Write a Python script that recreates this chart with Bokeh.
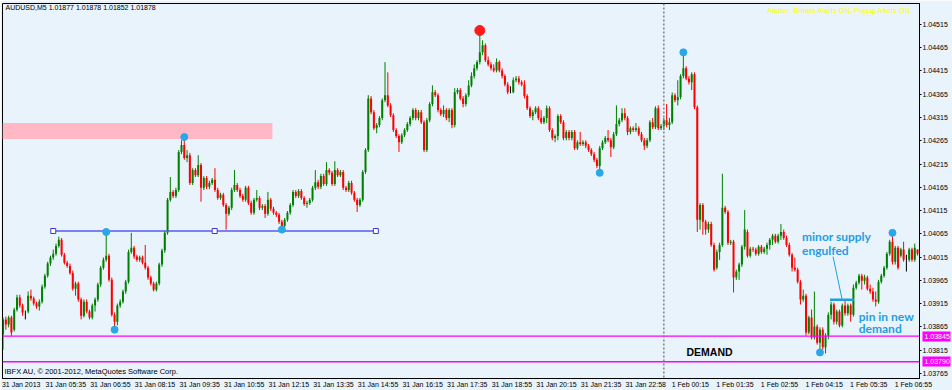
from bokeh.plotting import figure
from bokeh.models import (ColumnDataSource, Range1d, FixedTicker, PrintfTickFormatter,
                          Label, Span, LinearAxis)
from bokeh.embed import file_html
from bokeh.resources import INLINE

# ---------------- data ----------------
header_text = "AUDUSD,M5  1.01877 1.01878 1.01852 1.01878"
alert_text = "Alerter:  Emails Alerts ON,  Popup Alerts ON"
footer_text = "IBFX AU, \u00a9 2001-2012, MetaQuotes Software Corp."

open_ = [
1.03849,1.03881,1.03870,1.03885,1.03859,1.03902,1.03928,1.03911,1.03896,1.03898,
1.03932,1.03926,1.03915,1.03909,1.03919,1.03951,1.03975,1.04001,1.04014,1.04022,
1.04039,1.04052,1.04020,1.04003,1.03996,1.03981,1.03947,1.03958,1.03924,1.03889,
1.03919,1.03898,1.03885,1.03911,1.03924,1.03956,1.03992,1.04009,1.04018,1.03966,
1.03891,1.03876,1.03911,1.03919,1.03941,1.03962,1.04026,1.04035,1.04016,1.04009,
1.04014,1.04003,1.03992,1.03971,1.03958,1.03945,1.03958,1.03999,1.04029,1.04067,
1.04138,1.04155,1.04146,1.04159,1.04241,1.04256,1.04228,1.04234,1.04174,1.04202,
1.04191,1.04213,1.04164,1.04185,1.04166,1.04174,1.04181,1.04159,1.04142,1.04149,
1.04127,1.04108,1.04121,1.04159,1.04170,1.04159,1.04146,1.04138,1.04164,1.04131,
1.04110,1.04138,1.04142,1.04121,1.04125,1.04108,1.04138,1.04119,1.04110,1.04106,
1.04091,1.04082,1.04095,1.04110,1.04127,1.04155,1.04146,1.04157,1.04142,1.04129,
1.04131,1.04138,1.04164,1.04176,1.04166,1.04189,1.04172,1.04202,1.04196,1.04172,
1.04202,1.04191,1.04198,1.04164,1.04159,1.04174,1.04153,1.04138,1.04127,1.04138,
1.04198,1.04245,1.04356,1.04326,1.04292,1.04299,1.04314,1.04352,1.04363,1.04341,
1.04320,1.04288,1.04275,1.04262,1.04277,1.04288,1.04301,1.04314,1.04331,1.04314,
1.04326,1.04305,1.04245,1.04309,1.04344,1.04369,1.04363,1.04331,1.04322,1.04331,
1.04314,1.04331,1.04299,1.04369,1.04374,1.04356,1.04344,1.04363,1.04384,1.04404,
1.04421,1.04434,1.04455,1.04470,1.04438,1.04429,1.04421,1.04416,1.04434,1.04416,
1.04404,1.04386,1.04369,1.04369,1.04395,1.04399,1.04391,1.04386,1.04361,1.04335,
1.04318,1.04326,1.04335,1.04314,1.04305,1.04314,1.04335,1.04288,1.04271,1.04275,
1.04318,1.04305,1.04271,1.04284,1.04271,1.04284,1.04249,1.04262,1.04258,1.04262,
1.04254,1.04245,1.04236,1.04224,1.04211,1.04249,1.04262,1.04271,1.04266,1.04251,
1.04279,1.04301,1.04309,1.04324,1.04314,1.04284,1.04292,1.04288,1.04292,1.04279,
1.04266,1.04254,1.04266,1.04305,1.04294,1.04335,1.04292,1.04296,1.04309,1.04299,
1.04305,1.04363,1.04352,1.04359,1.04404,1.04421,1.04399,1.04391,1.04408,1.04337,
1.04095,1.04127,1.04091,1.04074,1.04086,1.04041,1.03992,1.04026,1.04041,1.04121,
1.04112,1.04046,1.04048,1.03971,1.03984,1.03999,1.04037,1.04069,1.04018,1.04033,
1.04031,1.04022,1.04037,1.04026,1.04033,1.04041,1.04052,1.04061,1.04048,1.04061,
1.04069,1.04056,1.04041,1.04020,1.03992,1.03988,1.03962,1.03924,1.03932,1.03853,
1.03885,1.03842,1.03866,1.03831,1.03859,1.03821,1.03846,1.03891,1.03913,1.03876,
1.03898,1.03868,1.03911,1.03894,1.03911,1.03891,1.03949,1.03960,1.03975,1.03964,
1.03971,1.03947,1.03941,1.03924,1.03919,1.03962,1.03975,1.03992,1.04022,1.04048,
1.04005,1.04035,1.04018,1.04031,1.04009,1.04009,1.04031,1.04009,1.04031,
]

high = [
1.03885,1.03887,1.03889,1.03889,1.03906,1.03934,1.03934,1.03915,1.03900,1.03941,
1.03945,1.03930,1.03919,1.03924,1.03956,1.03979,1.04005,1.04018,1.04031,1.04044,
1.04059,1.04056,1.04024,1.04007,1.04001,1.03986,1.03962,1.03962,1.03928,1.03924,
1.03924,1.03902,1.03915,1.03928,1.03960,1.03996,1.04014,1.04069,1.04022,1.03971,
1.03896,1.03915,1.03924,1.03945,1.03966,1.04031,1.04067,1.04039,1.04020,1.04018,
1.04018,1.04041,1.03996,1.03975,1.03962,1.03962,1.04003,1.04033,1.04071,1.04142,
1.04187,1.04159,1.04164,1.04245,1.04266,1.04273,1.04245,1.04239,1.04206,1.04206,
1.04234,1.04217,1.04189,1.04189,1.04179,1.04185,1.04206,1.04164,1.04153,1.04153,
1.04131,1.04125,1.04164,1.04202,1.04174,1.04164,1.04151,1.04168,1.04168,1.04136,
1.04142,1.04159,1.04146,1.04129,1.04129,1.04155,1.04142,1.04123,1.04114,1.04110,
1.04095,1.04099,1.04114,1.04131,1.04159,1.04159,1.04161,1.04161,1.04146,1.04136,
1.04142,1.04168,1.04202,1.04181,1.04194,1.04194,1.04219,1.04206,1.04200,1.04221,
1.04206,1.04202,1.04202,1.04168,1.04179,1.04179,1.04157,1.04142,1.04142,1.04202,
1.04249,1.04363,1.04361,1.04331,1.04303,1.04318,1.04356,1.04434,1.04412,1.04346,
1.04324,1.04292,1.04279,1.04281,1.04292,1.04305,1.04318,1.04335,1.04335,1.04331,
1.04331,1.04309,1.04314,1.04348,1.04384,1.04374,1.04367,1.04335,1.04341,1.04335,
1.04335,1.04335,1.04378,1.04378,1.04378,1.04361,1.04367,1.04395,1.04412,1.04429,
1.04438,1.04502,1.04481,1.04474,1.04446,1.04434,1.04429,1.04442,1.04438,1.04421,
1.04408,1.04391,1.04382,1.04401,1.04404,1.04404,1.04395,1.04395,1.04365,1.04339,
1.04331,1.04339,1.04339,1.04331,1.04318,1.04341,1.04339,1.04292,1.04279,1.04322,
1.04322,1.04309,1.04288,1.04288,1.04288,1.04288,1.04266,1.04284,1.04266,1.04266,
1.04258,1.04249,1.04241,1.04228,1.04254,1.04266,1.04275,1.04288,1.04271,1.04284,
1.04341,1.04314,1.04335,1.04335,1.04318,1.04296,1.04296,1.04303,1.04296,1.04284,
1.04271,1.04271,1.04309,1.04314,1.04339,1.04341,1.04301,1.04314,1.04344,1.04314,
1.04369,1.04367,1.04395,1.04408,1.04455,1.04425,1.04404,1.04412,1.04412,1.04341,
1.04131,1.04131,1.04095,1.04091,1.04091,1.04046,1.04031,1.04046,1.04194,1.04125,
1.04116,1.04052,1.04052,1.03988,1.04003,1.04041,1.04116,1.04074,1.04037,1.04037,
1.04035,1.04041,1.04041,1.04037,1.04046,1.04056,1.04065,1.04065,1.04065,1.04086,
1.04074,1.04061,1.04046,1.04024,1.04014,1.03992,1.03966,1.03945,1.03936,1.03889,
1.03902,1.03941,1.03870,1.03864,1.03864,1.03851,1.03896,1.03919,1.03917,1.03902,
1.03902,1.03915,1.03924,1.03915,1.03915,1.03956,1.03964,1.03979,1.03979,1.03977,
1.03975,1.03956,1.03949,1.03941,1.03966,1.03979,1.03996,1.04026,1.04052,1.04067,
1.04039,1.04039,1.04035,1.04048,1.04020,1.04035,1.04035,1.04044,1.04031,
]

low = [
1.03816,1.03859,1.03864,1.03846,1.03855,1.03898,1.03906,1.03889,1.03881,1.03894,
1.03921,1.03911,1.03904,1.03900,1.03915,1.03947,1.03971,1.03996,1.04009,1.04018,
1.04035,1.04016,1.03999,1.03992,1.03977,1.03943,1.03932,1.03919,1.03881,1.03885,
1.03894,1.03881,1.03881,1.03898,1.03919,1.03951,1.03988,1.04005,1.03962,1.03887,
1.03859,1.03868,1.03906,1.03915,1.03936,1.03958,1.04022,1.04011,1.04005,1.04005,
1.03999,1.03988,1.03966,1.03954,1.03941,1.03941,1.03954,1.03994,1.04024,1.04063,
1.04134,1.04142,1.04142,1.04155,1.04236,1.04224,1.04219,1.04170,1.04170,1.04187,
1.04187,1.04134,1.04159,1.04161,1.04161,1.04170,1.04155,1.04138,1.04138,1.04123,
1.04074,1.04104,1.04116,1.04155,1.04155,1.04142,1.04134,1.04134,1.04127,1.04106,
1.04106,1.04134,1.04116,1.04116,1.04099,1.04104,1.04114,1.04106,1.04101,1.04086,
1.04074,1.04078,1.04091,1.04106,1.04123,1.04142,1.04142,1.04138,1.04125,1.04121,
1.04127,1.04134,1.04159,1.04161,1.04161,1.04168,1.04168,1.04191,1.04168,1.04168,
1.04187,1.04187,1.04159,1.04155,1.04155,1.04149,1.04134,1.04112,1.04123,1.04134,
1.04194,1.04241,1.04322,1.04288,1.04281,1.04294,1.04309,1.04348,1.04337,1.04316,
1.04284,1.04271,1.04241,1.04258,1.04273,1.04284,1.04296,1.04309,1.04309,1.04309,
1.04301,1.04241,1.04241,1.04305,1.04339,1.04359,1.04326,1.04318,1.04316,1.04309,
1.04305,1.04292,1.04294,1.04365,1.04352,1.04337,1.04339,1.04359,1.04380,1.04399,
1.04416,1.04429,1.04449,1.04434,1.04425,1.04416,1.04412,1.04412,1.04412,1.04399,
1.04382,1.04365,1.04367,1.04367,1.04391,1.04386,1.04382,1.04356,1.04331,1.04314,
1.04309,1.04322,1.04309,1.04301,1.04301,1.04303,1.04284,1.04266,1.04262,1.04266,
1.04301,1.04266,1.04266,1.04266,1.04266,1.04245,1.04245,1.04254,1.04254,1.04249,
1.04241,1.04232,1.04219,1.04206,1.04196,1.04245,1.04258,1.04262,1.04230,1.04247,
1.04275,1.04296,1.04305,1.04309,1.04277,1.04279,1.04284,1.04284,1.04275,1.04262,
1.04245,1.04249,1.04262,1.04290,1.04290,1.04288,1.04288,1.04288,1.04294,1.04288,
1.04301,1.04348,1.04341,1.04354,1.04399,1.04395,1.04386,1.04374,1.04333,1.04069,
1.04074,1.04063,1.04063,1.04067,1.04037,1.03984,1.03988,1.04009,1.04037,1.04108,
1.04041,1.04041,1.03939,1.03966,1.03966,1.03994,1.04031,1.04014,1.04014,1.04026,
1.04018,1.04018,1.04022,1.04022,1.04020,1.04031,1.04041,1.04044,1.04044,1.04052,
1.04052,1.04037,1.04016,1.03984,1.03984,1.03958,1.03913,1.03919,1.03846,1.03849,
1.03838,1.03838,1.03827,1.03810,1.03816,1.03808,1.03838,1.03881,1.03870,1.03870,
1.03864,1.03864,1.03889,1.03889,1.03876,1.03887,1.03945,1.03956,1.03945,1.03956,
1.03943,1.03936,1.03919,1.03909,1.03915,1.03958,1.03971,1.03988,1.04018,1.03999,
1.03999,1.03988,1.04014,1.04005,1.03984,1.04005,1.04005,1.04005,1.04018,
]

close = [
1.03881,1.03870,1.03885,1.03853,1.03902,1.03928,1.03911,1.03896,1.03896,1.03932,
1.03926,1.03915,1.03909,1.03919,1.03951,1.03975,1.04001,1.04014,1.04022,1.04039,
1.04052,1.04020,1.04003,1.03996,1.03981,1.03947,1.03958,1.03924,1.03889,1.03919,
1.03898,1.03885,1.03911,1.03924,1.03956,1.03992,1.04009,1.04018,1.03966,1.03891,
1.03876,1.03911,1.03919,1.03941,1.03962,1.04026,1.04035,1.04016,1.04009,1.04014,
1.04003,1.03992,1.03971,1.03958,1.03945,1.03958,1.03999,1.04029,1.04067,1.04138,
1.04155,1.04146,1.04159,1.04241,1.04256,1.04228,1.04234,1.04174,1.04202,1.04191,
1.04213,1.04164,1.04185,1.04166,1.04174,1.04181,1.04159,1.04142,1.04149,1.04127,
1.04108,1.04121,1.04159,1.04170,1.04159,1.04146,1.04138,1.04164,1.04131,1.04110,
1.04138,1.04142,1.04121,1.04125,1.04108,1.04138,1.04119,1.04110,1.04106,1.04091,
1.04082,1.04095,1.04110,1.04127,1.04155,1.04146,1.04157,1.04142,1.04129,1.04131,
1.04138,1.04164,1.04176,1.04166,1.04189,1.04172,1.04202,1.04196,1.04172,1.04202,
1.04191,1.04198,1.04164,1.04159,1.04174,1.04153,1.04138,1.04127,1.04138,1.04198,
1.04245,1.04356,1.04326,1.04292,1.04299,1.04314,1.04352,1.04363,1.04341,1.04320,
1.04288,1.04275,1.04262,1.04277,1.04288,1.04301,1.04314,1.04331,1.04314,1.04326,
1.04305,1.04245,1.04309,1.04344,1.04369,1.04363,1.04331,1.04322,1.04331,1.04314,
1.04331,1.04299,1.04369,1.04374,1.04356,1.04344,1.04363,1.04384,1.04404,1.04421,
1.04434,1.04455,1.04470,1.04438,1.04429,1.04421,1.04416,1.04434,1.04416,1.04404,
1.04386,1.04369,1.04369,1.04395,1.04399,1.04391,1.04386,1.04361,1.04335,1.04318,
1.04326,1.04335,1.04314,1.04305,1.04314,1.04335,1.04288,1.04271,1.04275,1.04318,
1.04305,1.04271,1.04284,1.04271,1.04284,1.04249,1.04262,1.04258,1.04262,1.04254,
1.04245,1.04236,1.04224,1.04211,1.04249,1.04262,1.04271,1.04266,1.04251,1.04279,
1.04301,1.04309,1.04324,1.04314,1.04284,1.04292,1.04288,1.04292,1.04279,1.04266,
1.04254,1.04266,1.04305,1.04294,1.04335,1.04292,1.04296,1.04309,1.04299,1.04305,
1.04363,1.04352,1.04359,1.04404,1.04421,1.04399,1.04391,1.04408,1.04337,1.04095,
1.04127,1.04091,1.04074,1.04086,1.04041,1.03988,1.04026,1.04041,1.04121,1.04112,
1.04046,1.04048,1.03971,1.03984,1.03999,1.04037,1.04074,1.04018,1.04033,1.04031,
1.04022,1.04037,1.04026,1.04033,1.04041,1.04052,1.04061,1.04048,1.04061,1.04069,
1.04056,1.04041,1.04020,1.03992,1.03988,1.03962,1.03924,1.03932,1.03853,1.03885,
1.03842,1.03866,1.03831,1.03859,1.03821,1.03846,1.03891,1.03913,1.03876,1.03898,
1.03868,1.03911,1.03894,1.03911,1.03891,1.03949,1.03960,1.03975,1.03964,1.03971,
1.03947,1.03941,1.03924,1.03919,1.03962,1.03975,1.03992,1.04022,1.04048,1.04005,
1.04035,1.03992,1.04031,1.04009,1.04009,1.04031,1.04009,1.04035,1.04022,
]

# time-axis labels every 16 bars (80 minutes)
time_tick_bars = [0, 16, 32, 48, 64, 80, 96, 112, 128, 144, 160, 176, 192, 208, 224,
                  240, 256, 272, 288, 304, 320]
time_tick_labels = ["31 Jan 2013", "31 Jan 05:35", "31 Jan 06:55", "31 Jan 08:15",
                    "31 Jan 09:35", "31 Jan 10:55", "31 Jan 12:15", "31 Jan 13:35",
                    "31 Jan 14:55", "31 Jan 16:15", "31 Jan 17:35", "31 Jan 18:55",
                    "31 Jan 20:15", "31 Jan 21:35", "31 Jan 22:58", "1 Feb 00:15",
                    "1 Feb 01:35", "1 Feb 02:55", "1 Feb 04:15", "1 Feb 05:35",
                    "1 Feb 06:55"]
price_ticks = [1.03765, 1.03815, 1.03865, 1.03915, 1.03965, 1.04015, 1.04065, 1.04115,
               1.04165, 1.04215, 1.04265, 1.04315, 1.04365, 1.04415, 1.04465, 1.04515]

# swing points (fractal dots)
swing_blue_bar = [37, 40, 65, 100, 214, 244, 293, 319]
swing_blue_price = [1.04069, 1.03859, 1.04273, 1.04074, 1.04196, 1.04455, 1.03810, 1.04067]
swing_red_bar = [171]
swing_red_price = [1.04502]

# drawn objects
supply_zone = dict(left=-0.2, right=96.6, top=1.04303, bottom=1.04269)
neckline_bars = [18.0, 75.9, 133.7]
neckline_price = 1.04071
demand_levels = [1.03845, 1.03790]
day_separator_bar = 237
minor_supply_bars = [296.6, 305.2]
minor_supply_price = 1.03923
pointer_bars = [297.7, 300.9]
pointer_prices = [1.04016, 1.03925]

# ---------------- layout helpers ----------------
X0, X1 = -0.2, 328.7
Y0, Y1 = 1.03754, 1.04560
F_LEFT, F_TOP, F_W, F_H = 2, 3, 921, 376
RIGHT_BORDER = 952 - F_LEFT - F_W


def px_x(px):
    return X0 + (px - F_LEFT) / F_W * (X1 - X0)


def px_y(py):
    return Y1 - (py - F_TOP) / F_H * (Y1 - Y0)


n = min(len(open_), len(high), len(low), len(close))
bars = list(range(n))
colors = []
for o, c in zip(open_[:n], close[:n]):
    if c > o:
        colors.append("#008000")
    elif c < o:
        colors.append("#ff0000")
    else:
        colors.append("#000000")

src = ColumnDataSource(dict(
    x=bars, open=open_[:n], high=high[:n], low=low[:n], close=close[:n],
    top=[max(o, c) for o, c in zip(open_[:n], close[:n])],
    bottom=[min(o, c) for o, c in zip(open_[:n], close[:n])],
    color=colors,
))

BG = "#e8f3fb"
p = figure(width=952, height=390, output_backend="svg", toolbar_location=None,
           x_range=Range1d(X0, X1), y_range=Range1d(Y0, Y1),
           x_axis_location="below", y_axis_location="right",
           min_border_left=F_LEFT, min_border_top=F_TOP,
           min_border_right=RIGHT_BORDER, min_border_bottom=390 - F_TOP - F_H)
p.background_fill_color = BG
p.border_fill_color = BG
p.outline_line_color = "black"
p.xgrid.visible = False
p.ygrid.visible = False

AX_FONT = "Liberation Sans"
label_shift = 6.5  # centre of a left-anchored time label, in bars
ticks_x = [b + label_shift for b in time_tick_bars]
p.xaxis.ticker = FixedTicker(ticks=ticks_x)
p.xaxis.major_label_overrides = {t: lab for t, lab in zip(ticks_x, time_tick_labels)}
p.xaxis.major_tick_out = 0
p.xaxis.major_tick_in = 0
p.xaxis.minor_tick_out = 0
p.xaxis.minor_tick_in = 0
p.xaxis.major_label_standoff = 2
p.xaxis.major_label_text_font = AX_FONT
p.xaxis.major_label_text_font_size = "7px"
p.xaxis.major_label_text_color = "black"
p.xaxis.axis_line_color = "black"

p.yaxis.ticker = FixedTicker(ticks=price_ticks)
p.yaxis.formatter = PrintfTickFormatter(format="%.5f")
p.yaxis.major_tick_out = 2
p.yaxis.major_tick_in = 0
p.yaxis.minor_tick_out = 0
p.yaxis.minor_tick_in = 0
p.yaxis.major_label_standoff = 1
p.yaxis.major_label_text_font = AX_FONT
p.yaxis.major_label_text_font_size = "7px"
p.yaxis.major_label_text_color = "black"
p.yaxis.axis_line_color = "black"
p.yaxis.major_tick_line_color = "black"

# second right axis: magenta price tags for the demand levels (thick ticks drawn inwards
# from the outer edge form the tag, white labels sit on top of them)
tag_axis = LinearAxis(ticker=FixedTicker(ticks=demand_levels),
                      formatter=PrintfTickFormatter(format="%.5f"))
tag_axis.axis_line_color = None
tag_axis.major_tick_out = 0
tag_axis.major_tick_in = RIGHT_BORDER - 1
tag_axis.major_tick_line_color = "#ff00ff"
tag_axis.major_tick_line_width = 10
tag_axis.minor_tick_out = 0
tag_axis.minor_tick_in = 0
tag_axis.major_label_standoff = -(RIGHT_BORDER - 3)
tag_axis.major_label_text_font = AX_FONT
tag_axis.major_label_text_font_size = "7px"
tag_axis.major_label_text_color = "white"
p.add_layout(tag_axis, "right")

# supply zone
p.quad(left=[supply_zone["left"]], right=[supply_zone["right"]],
       top=[supply_zone["top"]], bottom=[supply_zone["bottom"]],
       fill_color="#ffb8c4", line_alpha=0)

# demand lines and day separator
for lvl in demand_levels:
    p.add_layout(Span(location=lvl, dimension="width", line_color="#ff00ff", line_width=1.3))
p.add_layout(Span(location=day_separator_bar, dimension="height", line_color="#808080",
                  line_width=1.5, line_dash="2 2"))

# candles
p.segment(x0="x", y0="low", x1="x", y1="high", line_color="color", line_width=1, source=src)
p.vbar(x="x", width=0.72, top="top", bottom="bottom", fill_color="color",
       line_alpha=0, source=src)

# neckline
p.line(x=[neckline_bars[0], neckline_bars[-1]], y=[neckline_price, neckline_price],
       line_color="#5a5af0", line_width=1.5)
p.scatter(x=neckline_bars, y=[neckline_price] * len(neckline_bars), marker="square",
          size=5, line_color="#3a3ad0", fill_color="white", line_width=1)

# swing dots
p.scatter(x=swing_blue_bar, y=swing_blue_price, size=7, fill_color="#2aa7e8",
          line_color="#2aa7e8")
p.scatter(x=swing_red_bar, y=swing_red_price, size=10, fill_color="#ff1a1a",
          line_color="#ff1a1a")

# minor supply line and pointer
ANN = "#1f9fe0"
p.line(x=minor_supply_bars, y=[minor_supply_price] * 2, line_color=ANN, line_width=2.5)
p.line(x=pointer_bars, y=pointer_prices, line_color=ANN, line_width=1)

# texts
def add_text(px, py, text, size, color, font, style="normal", baseline="middle"):
    p.add_layout(Label(x=px_x(px), y=px_y(py), text=text, text_font=font,
                       text_font_size=size, text_color=color, text_font_style=style,
                       text_align="left", text_baseline=baseline))


add_text(5, 7, header_text, "7px", "black", AX_FONT)
add_text(770, 10.5, alert_text, "7.5px", "#ffff00", AX_FONT)
add_text(4, 372, footer_text, "7.5px", "black", AX_FONT)
add_text(805, 237, "minor supply", "12px", ANN, "Lato", style="bold")
add_text(805, 250.5, "engulfed", "12px", ANN, "Lato", style="bold")
add_text(862, 317, "pin in new", "12px", ANN, "Lato", style="bold")
add_text(862, 329, "demand", "12px", ANN, "Lato", style="bold")
add_text(689, 352, "DEMAND", "10.5px", "black", AX_FONT, style="bold")

open("out.html", "w").write(file_html(p, INLINE))
